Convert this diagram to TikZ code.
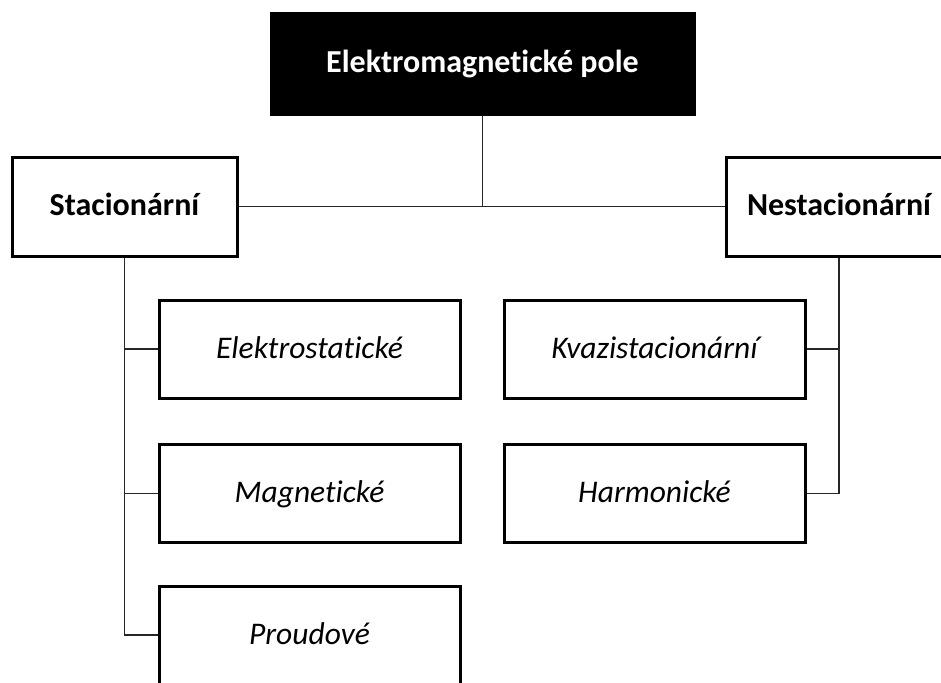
\documentclass[tikz,border=0pt]{standalone}
\usepackage{fontspec}
\setmainfont{Carlito}[Ligatures={NoCommon}]
\tikzset{
  polebox/.style={draw, line width=3pt, rectangle, inner sep=0pt,
    text height=22pt, text depth=4pt},
  headbox/.style={polebox, fill=black, text=white, font=\fontsize{32}{38}\selectfont\bfseries,
    minimum width=423pt, minimum height=100pt},
  groupbox/.style={polebox, font=\fontsize{32}{38}\selectfont\bfseries,
    minimum width=225pt, minimum height=99pt},
  kindbox/.style={polebox, font=\fontsize{31.5}{38}\selectfont\itshape,
    minimum width=301pt, minimum height=98pt},
  link/.style={line width=1.3pt, black!85}
}
\begin{document}
\begin{tikzpicture}[x=1pt, y=-1pt]
      \useasboundingbox (0,0) rectangle (941,682);
      \node[headbox] (pole) at (482.5,64) {Elektromagnetické pole};
      \node[groupbox] (stac) at (124.5,206.5) {Stacionární};
      \node[groupbox] (nestac) at (839,206.5) {Nestacionární};
      \node[kindbox] (elstat) at (309.5,349) {Elektrostatické};
      \node[kindbox] (magnet) at (309.5,493.5) {Magnetické};
      \node[kindbox] (proud) at (309.5,635) {Proudové};
      \node[kindbox] (kvazi) at (654.5,349) {Kvazistacionární};
      \node[kindbox] (harmon) at (654.5,493.5) {Harmonické};
      \begin{scope}[link]
        \draw (stac) -- (nestac);
        \draw (pole) -- (pole.south |- stac.east);
        \draw (stac.south) |- (proud.west);
        \draw (elstat.west) -- (elstat.west -| stac.south);
        \draw (magnet.west) -- (magnet.west -| stac.south);
        \draw (nestac.south) |- (harmon.east);
        \draw (kvazi.east) -- (kvazi.east -| nestac.south);
      \end{scope}
    \end{tikzpicture}
\end{document}
